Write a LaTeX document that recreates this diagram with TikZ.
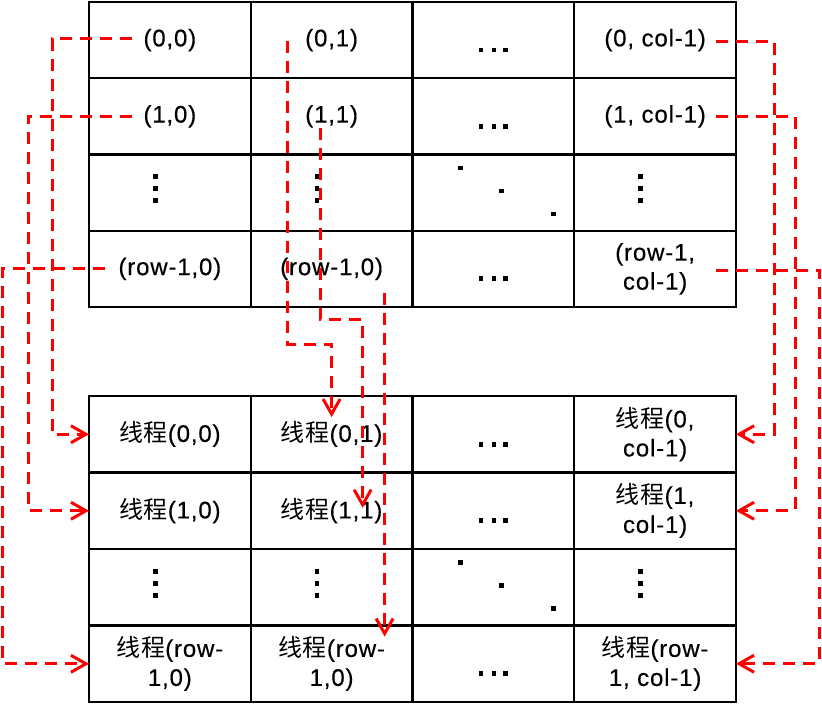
\documentclass[tikz,border=0pt]{standalone}
\usepackage{fontspec}
\setmainfont{Liberation Sans}[LetterSpace=3.5,FakeBold=0.4]
\newfontfamily\cjk{Noto Sans CJK SC}[LetterSpace=3]
\usetikzlibrary{arrows.meta}
\tikzset{
  cell/.style={draw=black, line width=2.2pt, minimum width=161.75pt, minimum height=76.4pt,
    inner sep=0pt, outer sep=0pt, align=center, font=\fontsize{24}{29}\selectfont},
  conn/.style={draw=red, line width=3pt, dash pattern=on 12pt off 8pt},
  tip/.style={-{Straight Barb[length=15pt,width=17pt,line width=3pt]}},
}
\newcommand{\mysq}[2]{\fill (#1,#2) rectangle ++(4.8,4.8);}
\newcommand{\mydotsH}[1]{\begin{scope}[shift={(#1)}]\mysq{-14.8}{7.5}\mysq{-1.8}{7.5}\mysq{9.7}{7.5}\end{scope}}
\newcommand{\mydotsV}[1]{\begin{scope}[shift={(#1)}]\mysq{-17}{-18.5}\mysq{-17}{-6.5}\mysq{-17}{5.5}\end{scope}}
\newcommand{\mydotsD}[1]{\begin{scope}[shift={(#1)}]\mysq{-35}{-27}\mysq{6}{-4}\mysq{58}{19}\end{scope}}
\begin{document}
\begin{tikzpicture}[x=1pt,y=-1pt]
\useasboundingbox (0,0) rectangle (822,705);
\foreach \r in {0,...,3}{
  \foreach \c in {0,...,3}{
    \coordinate (Tc-\r-\c) at ({89+161.75*(\c+0.5)},{2+76.25*(\r+0.5)});
    \coordinate (Bc-\r-\c) at ({89+161.75*(\c+0.5)},{396+76.5*(\r+0.5)});
  }
}
% top grid
\node[cell] (T00) at (Tc-0-0) {(0,0)};
\node[cell] (T01) at (Tc-0-1) {(0,1)};
\node[cell] (T02) at (Tc-0-2) {};
\node[cell] (T03) at (Tc-0-3) {(0, col-1)};
\node[cell] (T10) at (Tc-1-0) {(1,0)};
\node[cell] (T11) at (Tc-1-1) {(1,1)};
\node[cell] (T12) at (Tc-1-2) {};
\node[cell] (T13) at (Tc-1-3) {(1, col-1)};
\node[cell] (T20) at (Tc-2-0) {};
\node[cell] (T21) at (Tc-2-1) {};
\node[cell] (T22) at (Tc-2-2) {};
\node[cell] (T23) at (Tc-2-3) {};
\node[cell] (T30) at (Tc-3-0) {(row-1,0)};
\node[cell] (T31) at (Tc-3-1) {(row-1,0)};
\node[cell] (T32) at (Tc-3-2) {};
\node[cell] (T33) at (Tc-3-3) {(row-1,\\col-1)};
% bottom grid
\node[cell] (B00) at (Bc-0-0) {{\cjk 线程}(0,0)};
\node[cell] (B01) at (Bc-0-1) {{\cjk 线程}(0,1)};
\node[cell] (B02) at (Bc-0-2) {};
\node[cell] (B03) at (Bc-0-3) {{\cjk 线程}(0,\\col-1)};
\node[cell] (B10) at (Bc-1-0) {{\cjk 线程}(1,0)};
\node[cell] (B11) at (Bc-1-1) {{\cjk 线程}(1,1)};
\node[cell] (B12) at (Bc-1-2) {};
\node[cell] (B13) at (Bc-1-3) {{\cjk 线程}(1,\\col-1)};
\node[cell] (B20) at (Bc-2-0) {};
\node[cell] (B21) at (Bc-2-1) {};
\node[cell] (B22) at (Bc-2-2) {};
\node[cell] (B23) at (Bc-2-3) {};
\node[cell] (B30) at (Bc-3-0) {{\cjk 线程}(row-\\1,0)};
\node[cell] (B31) at (Bc-3-1) {{\cjk 线程}(row-\\1,0)};
\node[cell] (B32) at (Bc-3-2) {};
\node[cell] (B33) at (Bc-3-3) {{\cjk 线程}(row-\\1, col-1)};
% dots
\mydotsH{T02}\mydotsH{T12}\mydotsH{T32}\mydotsH{B02}\mydotsH{B12}\mydotsH{B32}
\mydotsV{T20}\mydotsV{T21}\mydotsV{T23}\mydotsV{B20}\mydotsV{B21}\mydotsV{B23}
\mydotsD{T22}\mydotsD{B22}
% connectors left
\draw[conn,tip] ([xshift=43pt,yshift=1.3pt]T00.west) -- ++(-80,0) |- (B00.west);
\draw[conn,tip] ([xshift=43pt]T10.west) -- ++(-104,0) |- (B10.west);
\draw[conn,tip] ([xshift=16pt]T30.west) -- ++(-102.5,0) |- (B30.west);
% connectors right
\draw[conn,tip] ([xshift=-20pt,yshift=-1pt]T03.east) -- ++(58,0) |- (B03.east);
\draw[conn,tip] ([xshift=-20pt]T13.east) -- ++(79,0) |- (B13.east);
\draw[conn,tip] ([xshift=-20pt,yshift=-1.5pt]T33.east) -- ++(103,0) |- (B33.east);
% connectors middle
\draw[conn,tip] ([xshift=-44.5pt,yshift=-0.7pt]T01.center) |- ([yshift=52pt]B01.north) -- ([yshift=-21pt]B01.north);
\draw[conn,tip] ([xshift=-11.5pt,yshift=-12pt]T11.center) |- ([xshift=31pt,yshift=-12pt]T31.south) -- ([xshift=31pt,yshift=3pt]B11.center);
\draw[conn,tip] ([xshift=53pt,yshift=-24pt]T31.center) -- ([xshift=53pt,yshift=-11pt]B31.north);
\end{tikzpicture}
\end{document}
